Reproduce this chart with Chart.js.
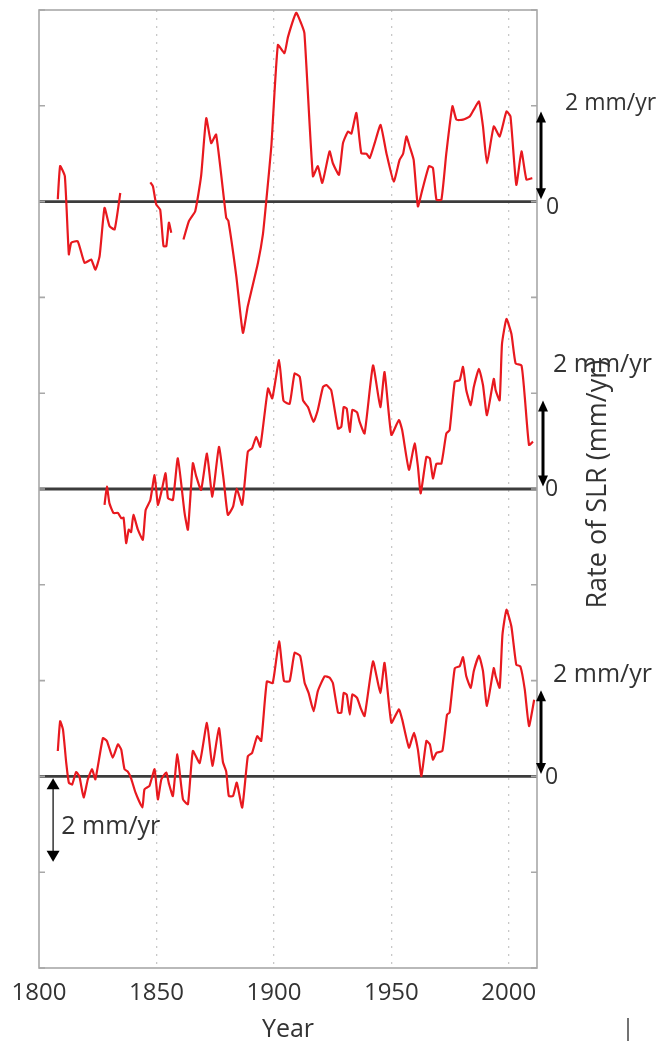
<!DOCTYPE html>
<html>
<head>
<meta charset="utf-8">
<script src="https://cdn.jsdelivr.net/npm/chart.js@4"></script>
<style>
  html, body { margin: 0; padding: 0; background: #fff; }
  #wrap { width: 665px; height: 1041px; }
</style>
</head>
<body>
<div id="wrap"><canvas id="slrChart" width="665" height="1041"></canvas></div>
<script>
// rates of sea level rise (mm/yr), each curve
const topYears = [1808, 1809, 1811, 1812.7, 1813.7, 1816.5, 1819.4, 1822.2, 1824, 1825.8, 1827.9, 1830, 1832.2, 1834.6, 1841,
  1847.4, 1848.5, 1849.9, 1851.6, 1853, 1854.2, 1855.3, 1856.3, 1859,
  1861.5, 1863.8, 1866.5, 1869, 1871.2, 1873.3, 1875.4, 1879.7, 1880.6, 1884, 1886.8, 1888.9, 1893.2, 1895.3, 1896.8, 1898.9,
  1901.7, 1904.5, 1906, 1909.5, 1911.6, 1913, 1916.6, 1918.7, 1920.6, 1923.7, 1925.1, 1927.7, 1929.4, 1931.5, 1933, 1935.1,
  1937.2, 1939.4, 1940.8, 1942.9, 1945.4, 1947.9, 1951, 1953.5, 1955, 1956.4, 1957.8, 1959.5, 1961.3, 1963.2, 1966, 1967.7,
  1969.2, 1971.3, 1973.4, 1976, 1977.7, 1980.5, 1983.4, 1985.1, 1987.3, 1989, 1990.7, 1993.6, 1996.1, 1999, 2000.7, 2003.2,
  2005.4, 2007.5, 2010];
const topRates = [0.05, 0.74, 0.53, -1.1, -0.86, -0.83, -1.28, -1.21, -1.42, -1.14, -0.13, -0.51, -0.58, 0.18, null,
  0.40, 0.32, -0.06, -0.17, -0.93, -0.93, -0.44, -0.65, null,
  -0.79, -0.41, -0.2, 0.53, 1.74, 1.22, 1.4, -0.34, -0.4, -1.56, -2.74, -2.18, -1.28, -0.69, 0.04, 1.15,
  3.27, 3.1, 3.44, 3.94, 3.72, 3.51, 0.53, 0.74, 0.39, 1.05, 0.8, 0.56, 1.22, 1.46, 1.42, 1.85,
  1.01, 1.0, 0.91, 1.22, 1.6, 1.01, 0.42, 0.87, 1.0, 1.36, 1.15, 0.87, -0.1, 0.25, 0.74, 0.7,
  0.04, 0.04, 1.01, 1.99, 1.71, 1.71, 1.78, 1.92, 2.09, 1.57, 0.8, 1.57, 1.36, 1.88, 1.78, 0.35,
  1.05, 0.46, 0.49];

const midYears = [1827.9, 1828.9, 1830, 1831.7, 1833.6, 1835, 1836, 1837.1, 1838.2, 1839.2, 1840.2, 1842.1, 1844.2, 1845.4,
  1847.4, 1849.2, 1850.6, 1852.1, 1853.9, 1854.9, 1857, 1859.1, 1862, 1863.4, 1865.5, 1866.9, 1869, 1871.5, 1873.8, 1876.6,
  1878.7, 1880.4, 1882.6, 1884.2, 1886.5, 1888.9, 1890.7, 1892.5, 1894.2, 1897.5, 1899.3, 1902.2, 1904.1, 1906.7, 1908.8,
  1911, 1912.4, 1914.5, 1916.9, 1918.7, 1920.9, 1922.3, 1924.4, 1927.3, 1928.7, 1929.7, 1931, 1932.3, 1933.4, 1935.4, 1936.5,
  1938.6, 1942.2, 1945.3, 1947.1, 1950, 1953.2, 1954.6, 1957.5, 1959.9, 1961.3, 1962.5, 1964.9, 1966.4, 1967.7, 1969.2,
  1971.3, 1973.4, 1974.8, 1977, 1979.1, 1980.5, 1981.9, 1983.8, 1985.1, 1987.3, 1989, 1990.7, 1993.6, 1994.4, 1996.1,
  1997.1, 1999, 2001.1, 2002.9, 2005.4, 2006.8, 2008.6, 2010.3];
const midRates = [-0.33, 0.05, -0.3, -0.5, -0.5, -0.61, -0.6, -1.13, -0.85, -0.9, -0.54, -0.85, -1.06, -0.44,
  -0.23, 0.29, -0.33, -0.06, 0.33, -0.19, -0.23, 0.64, -0.51, -0.85, 0.54, 0.27, -0.02, 0.74, -0.16, 0.88,
  0.15, -0.54, -0.37, 0.01, -0.33, 0.78, 0.85, 1.09, 0.88, 2.1, 1.89, 2.69, 1.84, 1.78, 2.41,
  2.34, 1.85, 1.71, 1.4, 1.65, 2.13, 2.17, 2.06, 1.26, 1.3, 1.71, 1.68, 1.19, 1.65, 1.6, 1.4,
  1.16, 2.58, 1.71, 2.44, 1.13, 1.44, 1.23, 0.4, 0.95, 0.47, -0.09, 0.67, 0.64, 0.22, 0.53,
  0.53, 1.16, 1.23, 2.24, 2.27, 2.55, 2.06, 1.75, 2.13, 2.51, 2.17, 1.54, 2.3, 2.06, 1.85,
  3.03, 3.55, 3.24, 2.62, 2.58, 1.92, 0.92, 0.99];

const botYears = [1808, 1809, 1810.2, 1811.6, 1812.7, 1814.1, 1815.8, 1817.2, 1819, 1820.8, 1822.6, 1824, 1827.2, 1828.9,
  1831.4, 1833.6, 1835, 1836.4, 1837.8, 1839.2, 1841.1, 1844, 1844.9, 1847, 1849.2, 1850.6, 1852.1, 1854.2, 1855.3, 1857,
  1858.9, 1861.3, 1863.4, 1865.5, 1868.4, 1871.5, 1873.8, 1876.6, 1878.3, 1879.7, 1880.8, 1882.6, 1884.2, 1886.5, 1888.9,
  1890.7, 1892.9, 1894.6, 1897, 1899.5, 1902.2, 1904.3, 1906.7, 1908.8, 1911.2, 1913.1, 1914.8, 1916.9, 1918.7, 1921.6,
  1923.7, 1925.1, 1927.3, 1928.7, 1929.7, 1931, 1932.3, 1933.4, 1935.4, 1936.9, 1938.6, 1942.2, 1945.3, 1947.1, 1950,
  1953.2, 1954.6, 1957.5, 1959.6, 1961.3, 1962.8, 1964.9, 1966.4, 1967.7, 1969.2, 1971.7, 1973.7, 1974.8, 1977, 1979.1,
  1980.5, 1981.9, 1983.8, 1985.1, 1987.3, 1989, 1990.7, 1993.6, 1994.4, 1996.1, 1997.3, 1999, 2001.1, 2003.2, 2004.9,
  2006.8, 2008.6, 2010.8];
const botRates = [0.53, 1.15, 0.98, 0.28, -0.13, -0.17, 0.09, 0.0, -0.44, -0.06, 0.15, -0.06, 0.8, 0.74,
  0.39, 0.67, 0.56, 0.15, 0.1, -0.04, -0.34, -0.65, -0.27, -0.2, 0.15, -0.48, -0.06, 0.08, -0.15, -0.41,
  0.46, -0.48, -0.58, 0.53, 0.28, 1.12, 0.22, 1.01, 0.3, 0.1, -0.41, -0.41, -0.13, -0.65, 0.42,
  0.49, 0.84, 0.74, 1.98, 1.95, 2.82, 1.99, 1.99, 2.58, 2.51, 1.95, 1.74, 1.36, 1.78, 2.09,
  2.06, 1.95, 1.33, 1.33, 1.74, 1.71, 1.29, 1.71, 1.64, 1.43, 1.26, 2.4, 1.74, 2.37, 1.12,
  1.4, 1.19, 0.6, 0.91, 0.56, 0.01, 0.74, 0.67, 0.35, 0.49, 0.53, 1.29, 1.33, 2.26, 2.3,
  2.49, 2.09, 1.85, 2.2, 2.52, 2.2, 1.47, 2.26, 2.09, 1.85, 2.96, 3.48, 3.13, 2.33, 2.3,
  1.81, 1.05, 1.6];

// each curve is shifted up so it sits on its own zero line
const offsets = [16, 10, 4];
const xTicks = [1800, 1850, 1900, 1950, 2000];
const yTicks = [0, 2, 4, 6, 8, 10, 12, 14, 16, 18, 20];

const RED = "#e8191f";
const INK = "#333333";
const FONT = "'Open Sans'";

function shifted(years, rates, off) {
  return years.map((yr, i) => ({ x: yr, y: rates[i] === null ? null : rates[i] + off }));
}

const series = [
  shifted(topYears, topRates, offsets[0]),
  shifted(midYears, midRates, offsets[1]),
  shifted(botYears, botRates, offsets[2]),
];

const datasets = [];
offsets.forEach((off) => {
  datasets.push({
    data: [{ x: 1800, y: off }, { x: 2012, y: off }],
    borderColor: "#3c3c3c",
    borderWidth: 2.8,
    pointRadius: 0,
    order: 2,
  });
});
series.forEach((pts) => {
  datasets.push({
    data: pts,
    borderColor: RED,
    borderWidth: 2.2,
    pointRadius: 0,
    tension: 0.15,
    spanGaps: false,
    order: 1,
  });
});

function arrow(ctx, x, y1, y2, lw, hw, hl) {
  ctx.save();
  ctx.strokeStyle = "#000";
  ctx.fillStyle = "#000";
  ctx.lineWidth = lw;
  ctx.beginPath();
  ctx.moveTo(x, y1 + hl * 0.8);
  ctx.lineTo(x, y2 - hl * 0.8);
  ctx.stroke();
  ctx.beginPath();
  ctx.moveTo(x, y1);
  ctx.lineTo(x - hw / 2, y1 + hl);
  ctx.lineTo(x + hw / 2, y1 + hl);
  ctx.closePath();
  ctx.fill();
  ctx.beginPath();
  ctx.moveTo(x, y2);
  ctx.lineTo(x - hw / 2, y2 - hl);
  ctx.lineTo(x + hw / 2, y2 - hl);
  ctx.closePath();
  ctx.fill();
  ctx.restore();
}

const framePlugin = {
  id: "frame",
  afterDatasetsDraw(chart) {
    const { ctx, chartArea: a, scales } = chart;
    const ys = scales.y;
    ctx.save();
    ctx.strokeStyle = "#a8a8a8";
    ctx.lineWidth = 1.6;
    ctx.strokeRect(a.left, a.top, a.right - a.left, a.bottom - a.top);
    // inward ticks on both sides
    yTicks.forEach((v) => {
      const py = ys.getPixelForValue(v);
      ctx.beginPath();
      ctx.moveTo(a.left, py);
      ctx.lineTo(a.left + 6, py);
      ctx.moveTo(a.right, py);
      ctx.lineTo(a.right - 6, py);
      ctx.stroke();
    });
    ctx.restore();
  },
  afterDraw(chart) {
    const { ctx, chartArea: a, scales } = chart;
    const xs = scales.x, ys = scales.y;
    const ax = a.right + 4;
    // scale bars on the right
    arrow(ctx, ax, ys.getPixelForValue(17.88), ys.getPixelForValue(16.05), 3, 10, 11);
    arrow(ctx, ax + 2, ys.getPixelForValue(11.85), ys.getPixelForValue(10.05), 3, 10, 11);
    arrow(ctx, ax, ys.getPixelForValue(5.8), ys.getPixelForValue(4.05), 3, 10, 11);
    // thin bar on the left
    arrow(ctx, xs.getPixelForValue(1806), ys.getPixelForValue(3.96), ys.getPixelForValue(2.22), 1.2, 13, 11);

    ctx.save();
    ctx.fillStyle = INK;
    ctx.textBaseline = "middle";
    ctx.textAlign = "left";
    ctx.font = "23px " + FONT;
    ctx.fillText("2 mm/yr", a.right + 28, ys.getPixelForValue(18.04));
    ctx.font = "25px " + FONT;
    ctx.fillText("2 mm/yr", a.right + 16, ys.getPixelForValue(12.6));
    ctx.fillText("2 mm/yr", a.right + 16, ys.getPixelForValue(6.12));
    ctx.fillText("2 mm/yr", xs.getPixelForValue(1809.5), ys.getPixelForValue(2.95));
    ctx.font = "23px " + FONT;
    ctx.fillText("0", a.right + 9, ys.getPixelForValue(15.88));
    ctx.fillText("0", a.right + 8, ys.getPixelForValue(10.0));
    ctx.fillText("0", a.right + 8, ys.getPixelForValue(3.98));
    // axis title on the right
    ctx.translate(598, ys.getPixelForValue(10.1));
    ctx.rotate(-Math.PI / 2);
    ctx.textAlign = "center";
    ctx.font = "27px " + FONT;
    ctx.fillText("Rate of SLR (mm/yr)", 0, 0);
    ctx.restore();

    // small stray mark at the bottom edge
    ctx.save();
    ctx.strokeStyle = "#444";
    ctx.lineWidth = 1.5;
    ctx.beginPath();
    ctx.moveTo(628, 1018);
    ctx.lineTo(628, 1041);
    ctx.stroke();
    ctx.restore();
  },
};

new Chart(document.getElementById("slrChart"), {
  type: "line",
  data: { datasets: datasets },
  plugins: [framePlugin],
  options: {
    responsive: false,
    animation: false,
    events: [],
    layout: { padding: { top: 10, right: 128, left: 0, bottom: 0 } },
    plugins: { legend: { display: false }, tooltip: { enabled: false } },
    scales: {
      x: {
        type: "linear",
        min: 1800,
        max: 2012,
        afterBuildTicks(scale) {
          scale.ticks = xTicks.map((v) => ({ value: v }));
        },
        afterFit(scale) { scale.height = 73; },
        grid: {
          color: (c) => (c.tick && c.tick.value === 1800 ? "rgba(0,0,0,0)" : "#c8c8c8"),
          lineWidth: 1.3,
          drawTicks: false,
        },
        border: { display: false, dash: [2, 6] },
        ticks: {
          color: INK,
          font: { family: FONT, size: 24 },
          padding: 11,
          maxRotation: 0,
          callback: (v) => String(v),
        },
        title: {
          display: true,
          text: "Year",
          color: INK,
          font: { family: FONT, size: 25 },
          padding: { top: 0, bottom: -4 },
        },
      },
      y: {
        min: 0,
        max: 20,
        afterFit(scale) { scale.width = 39; },
        grid: { display: false },
        border: { display: false },
        ticks: { display: false },
      },
    },
  },
});
</script>
</body>
</html>
